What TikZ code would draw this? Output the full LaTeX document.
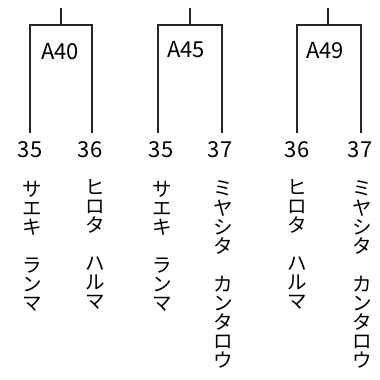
\documentclass[tikz,border=0pt]{standalone}
\usepackage{fontspec}
\newfontfamily\cjk{Noto Sans CJK JP}
\tikzset{
  bline/.style={draw=black!85, line width=1.8pt},
  num/.style={font=\cjk\fontsize{22}{22}\selectfont, inner sep=0pt, anchor=center},
  vname/.style={font=\cjk\fontsize{19.5}{19.1}\selectfont, inner sep=0pt, anchor=north, align=center},
}
\begin{document}
\begin{tikzpicture}[x=1pt,y=-1pt]
\useasboundingbox (0,0) rectangle (380,380);
% bracket 1
\coordinate (s1) at (61,8);
\coordinate (t1) at (61,25);
\coordinate (l1) at (30,25);
\coordinate (r1) at (92,25);
\coordinate (lb1) at (30,133);
\coordinate (rb1) at (92,133);
\draw[bline] (s1) -- (t1);
\draw[bline] (lb1) -- (l1) -- (r1) -- (rb1);
\node[num] (a40) at (60,52) {A40};
% bracket 2
\coordinate (s2) at (190,8);
\coordinate (t2) at (190,25);
\coordinate (l2) at (158,25);
\coordinate (r2) at (222,25);
\coordinate (lb2) at (158,133);
\coordinate (rb2) at (222,133);
\draw[bline] (s2) -- (t2);
\draw[bline] (lb2) -- (l2) -- (r2) -- (rb2);
\node[num] (a45) at (186,50) {A45};
% bracket 3
\coordinate (s3) at (328,8);
\coordinate (t3) at (328,25);
\coordinate (l3) at (297,25);
\coordinate (r3) at (361,25);
\coordinate (lb3) at (297,133);
\coordinate (rb3) at (361,133);
\draw[bline] (s3) -- (t3);
\draw[bline] (lb3) -- (l3) -- (r3) -- (rb3);
\node[num] (a49) at (325,51) {A49};
% leaf numbers
\node[num] (n1) at (30,150) {35};
\node[num] (n2) at (90,150) {36};
\node[num] (n3) at (161,150) {35};
\node[num] (n4) at (220,150) {37};
\node[num] (n5) at (297,150) {36};
\node[num] (n6) at (360,150) {37};
% vertical names
\node[vname] (v1) at (32,181) {サ\\エ\\キ\\　\\ラ\\ン\\マ};
\node[vname] (v2) at (95,179) {ヒ\\ロ\\タ\\　\\ハ\\ル\\マ};
\node[vname] (v3) at (162,181) {サ\\エ\\キ\\　\\ラ\\ン\\マ};
\node[vname] (v4) at (223,181) {ミ\\ヤ\\シ\\タ\\　\\カ\\ン\\タ\\ロ\\ウ};
\node[vname] (v5) at (297,179) {ヒ\\ロ\\タ\\　\\ハ\\ル\\マ};
\node[vname] (v6) at (362,181) {ミ\\ヤ\\シ\\タ\\　\\カ\\ン\\タ\\ロ\\ウ};
\end{tikzpicture}
\end{document}
